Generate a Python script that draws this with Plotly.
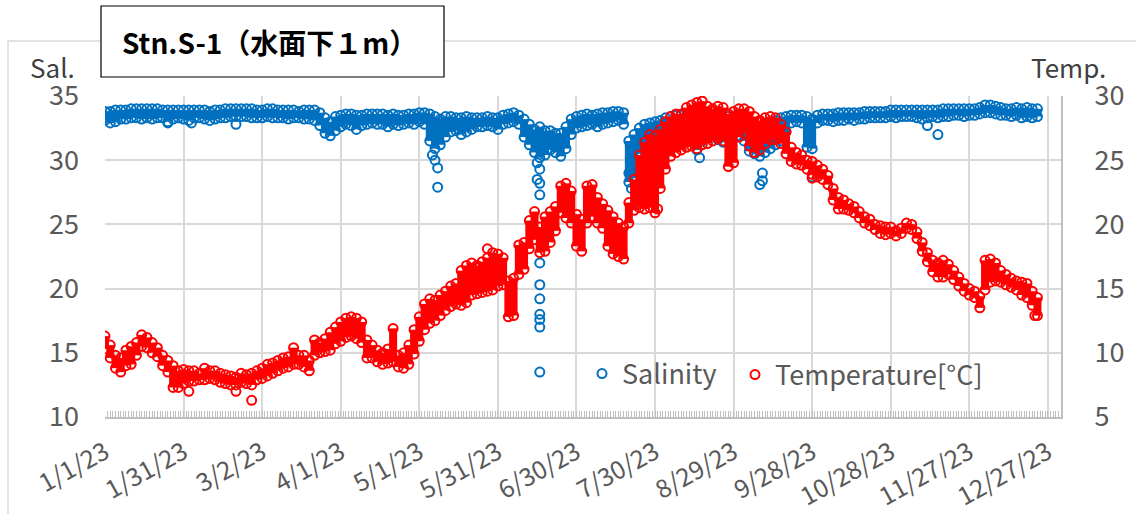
import plotly.graph_objects as go
import pandas as pd

# ---------------- data (one reading every 2 days) ----------------
start_date = "2023-01-01"

temp_lo = [10.3, 9.6, 8.8, 8.5, 9.0, 9.1, 9.8, 10.5, 10.4, 10.0, 9.7, 9.0, 8.5, 7.3, 7.3, 7.6, 7.8, 7.8, 7.9, 7.9,
           8.0, 7.9, 7.7, 7.6, 7.5, 7.5, 7.7, 7.6, 7.5, 7.9, 8.0, 8.2, 8.4, 8.6, 8.8, 8.9, 9.1, 9.1, 8.9, 8.6,
           9.8, 10.0, 10.1, 10.2, 10.7, 10.9, 11.2, 11.3, 11.1, 10.8, 9.6, 9.6, 9.3, 9.1, 9.2, 9.3, 8.9, 8.8, 9.1, 9.9,
           10.9, 11.8, 12.3, 12.5, 12.9, 13.3, 13.6, 13.8, 13.7, 13.9, 14.5, 14.6, 14.7, 14.8, 14.9, 15.2, 15.3, 12.8, 12.9, 16.1,
           16.5, 18.1, 18.8, 17.8, 17.9, 18.6, 19.5, 20.9, 20.5, 20.1, 18.3, 17.9, 20.1, 20.6, 20.1, 19.7, 18.3, 17.7, 17.5, 17.3,
           20.1, 21.1, 21.3, 21.2, 21.3, 20.9, 22.8, 24.3, 25.3, 25.6, 25.8, 26.0, 26.1, 25.9, 26.2, 26.3, 26.5, 26.7, 26.5, 24.5,
           24.8, 26.8, 27.1, 26.1, 25.6, 25.8, 26.3, 26.6, 26.6, 26.3, 25.5, 24.9, 24.7, 24.6, 24.3, 23.9, 23.7, 23.5, 23.1, 21.9,
           21.2, 21.2, 21.1, 20.9, 20.5, 20.1, 19.9, 19.6, 19.3, 19.2, 19.3, 19.1, 19.3, 19.7, 19.6, 18.9, 17.9, 17.1, 16.3, 15.9,
           15.9, 16.1, 15.7, 15.2, 14.8, 14.5, 14.3, 13.5, 14.9, 15.5, 15.6, 15.5, 15.3, 15.1, 14.9, 14.5, 14.3, 13.7, 12.9]
temp_hi = [11.3, 10.6, 9.8, 9.6, 10.2, 10.5, 10.8, 11.4, 11.2, 10.8, 10.4, 9.8, 9.4, 9.0, 8.6, 8.7, 8.6, 8.6, 8.4, 8.8,
           8.6, 8.6, 8.4, 8.3, 8.2, 8.1, 8.4, 8.3, 8.4, 8.6, 8.8, 9.1, 9.2, 9.4, 9.6, 9.7, 10.4, 9.8, 9.8, 9.4,
           11.0, 10.8, 11.1, 11.6, 12.0, 12.4, 12.7, 12.8, 12.7, 12.4, 11.0, 10.6, 10.2, 10.0, 10.3, 11.9, 9.8, 10.0, 10.6, 11.8,
           12.8, 13.8, 14.2, 14.1, 14.5, 14.8, 15.2, 15.4, 16.4, 16.8, 17.0, 16.8, 17.1, 17.4, 17.8, 17.7, 17.4, 15.6, 15.8, 18.4,
           18.6, 20.3, 21.0, 19.8, 20.6, 21.0, 21.4, 23.0, 23.2, 22.6, 20.8, 20.4, 23.0, 23.1, 22.1, 21.6, 21.1, 20.6, 20.1, 19.8,
           21.7, 23.5, 25.4, 26.4, 27.0, 26.9, 27.4, 28.0, 28.4, 28.6, 28.6, 29.1, 29.3, 29.5, 29.6, 29.2, 29.0, 29.2, 29.1, 28.6,
           28.8, 29.0, 29.0, 28.8, 28.4, 28.1, 28.3, 28.4, 28.3, 27.8, 27.2, 26.0, 25.6, 25.4, 25.0, 24.9, 24.6, 24.3, 23.8, 22.8,
           22.1, 21.9, 21.6, 21.4, 21.0, 20.6, 20.4, 20.0, 19.9, 19.8, 19.8, 19.5, 19.7, 20.1, 20.0, 19.4, 18.6, 17.8, 17.2, 17.0,
           17.2, 16.9, 16.4, 15.9, 15.4, 15.0, 14.8, 14.4, 17.2, 17.3, 17.0, 16.4, 16.1, 15.8, 15.6, 15.5, 15.4, 14.8, 14.3]

sal_lo = [33.1, 32.9, 33.0, 33.2, 33.2, 33.3, 33.3, 33.2, 33.3, 33.2, 33.3, 33.3, 33.0, 33.2, 33.3, 33.2, 33.1, 33.3, 33.3, 33.2,
          33.1, 33.2, 33.3, 33.3, 33.4, 33.4, 33.4, 33.4, 33.3, 33.3, 33.3, 33.4, 33.3, 33.3, 33.3, 33.2, 33.3, 33.3, 33.2, 33.2,
          33.1, 32.7, 32.1, 31.9, 32.3, 32.6, 32.8, 32.7, 32.4, 32.7, 32.8, 32.9, 32.8, 32.8, 32.6, 32.8, 32.7, 32.8, 32.9, 32.8,
          33.0, 32.8, 31.5, 30.9, 31.2, 31.8, 32.2, 32.3, 32.0, 32.2, 32.4, 32.6, 32.6, 32.7, 32.6, 32.4, 32.8, 32.9, 33.0, 32.8,
          31.8, 31.2, 30.6, 30.2, 30.4, 30.8, 30.6, 30.3, 30.9, 32.0, 32.5, 32.6, 32.7, 32.8, 32.6, 32.8, 32.9, 33.0, 33.1, 32.8,
          28.3, 28.6, 30.5, 30.7, 31.2, 30.8, 31.5, 32.0, 32.2, 32.2, 32.3, 32.2, 31.8, 30.8, 31.5, 32.2, 32.0, 31.6, 31.4, 31.8,
          32.0, 31.9, 31.5, 30.7, 30.5, 30.3, 30.6, 30.9, 31.2, 31.5, 32.2, 32.9, 33.0, 32.9, 31.0, 30.9, 32.9, 33.1, 33.1, 33.0,
          33.1, 33.1, 33.2, 33.1, 33.2, 33.2, 33.3, 33.3, 33.3, 33.3, 33.4, 33.3, 33.4, 33.4, 33.4, 33.3, 33.2, 33.3, 33.4, 33.3,
          33.4, 33.4, 33.5, 33.5, 33.4, 33.5, 33.5, 33.6, 33.7, 33.7, 33.6, 33.5, 33.5, 33.4, 33.5, 33.3, 33.4, 33.3, 33.4]
sal_hi = [33.8, 33.8, 33.9, 33.9, 33.9, 34.0, 34.0, 34.0, 34.0, 34.0, 34.0, 33.9, 33.9, 33.9, 33.9, 33.9, 33.9, 33.9, 33.9, 33.9,
          33.8, 33.9, 33.9, 34.0, 34.0, 34.0, 34.0, 34.0, 34.0, 33.9, 33.9, 34.0, 34.0, 33.9, 33.9, 33.9, 33.9, 33.8, 33.9, 33.9,
          33.9, 33.7, 33.3, 33.0, 33.4, 33.5, 33.6, 33.6, 33.5, 33.5, 33.6, 33.6, 33.6, 33.6, 33.5, 33.6, 33.5, 33.5, 33.6, 33.6,
          33.7, 33.7, 33.6, 33.4, 33.2, 33.4, 33.4, 33.3, 33.3, 33.4, 33.3, 33.3, 33.3, 33.4, 33.3, 33.3, 33.5, 33.6, 33.7, 33.5,
          33.2, 32.8, 32.4, 32.6, 32.3, 32.3, 32.1, 32.1, 32.6, 33.2, 33.4, 33.5, 33.6, 33.5, 33.6, 33.7, 33.7, 33.8, 33.8, 33.7,
          31.5, 32.0, 32.5, 32.8, 32.9, 33.0, 33.1, 33.3, 33.4, 33.5, 33.5, 33.5, 33.5, 33.4, 33.3, 33.5, 33.5, 33.4, 33.3, 33.4,
          33.4, 33.5, 33.4, 32.8, 32.6, 32.4, 32.6, 32.9, 33.1, 33.3, 33.4, 33.5, 33.5, 33.5, 33.4, 33.2, 33.5, 33.6, 33.6, 33.6,
          33.7, 33.7, 33.7, 33.7, 33.7, 33.8, 33.8, 33.8, 33.8, 33.8, 33.9, 33.9, 33.9, 33.9, 33.9, 33.9, 33.9, 33.9, 33.9, 33.9,
          34.0, 34.0, 34.0, 34.0, 34.0, 34.0, 34.0, 34.1, 34.3, 34.3, 34.2, 34.1, 34.0, 34.0, 34.1, 34.0, 34.1, 34.0, 34.0]

sal_out_dates = ["2023-01-25", "2023-02-03", "2023-02-20", "2023-05-06", "2023-05-07", "2023-05-08", "2023-05-08",
                 "2023-06-15", "2023-06-15", "2023-06-16", "2023-06-16", "2023-06-16", "2023-06-16", "2023-06-16",
                 "2023-06-16", "2023-06-16", "2023-06-16", "2023-06-16", "2023-06-16", "2023-07-20", "2023-07-21",
                 "2023-08-16", "2023-09-08", "2023-09-09", "2023-09-09", "2023-09-28", "2023-11-11", "2023-11-15"]
sal_out_vals = [32.9, 32.9, 32.8, 30.4, 30.0, 29.4, 27.9,
                29.8, 28.5, 29.3, 28.2, 27.3, 22.0, 20.3,
                19.2, 18.0, 17.6, 17.0, 13.5, 29.0, 27.8,
                30.2, 28.1, 29.0, 28.4, 28.7, 32.7, 32.0]

temp_out_dates = ["2023-02-02", "2023-02-20", "2023-02-26", "2023-05-27", "2023-07-31", "2023-09-28", "2023-12-22"]
temp_out_vals = [7.0, 7.0, 6.3, 18.1, 21.2, 23.6, 12.9]

tick_step_days = 30

# ---------------- styling ----------------
BLUE = "#0070C0"
RED = "#FF0000"
GRID = "#D9D9D9"
AXIS = "#BFBFBF"
TXT = "#595959"
FONT = "Noto Sans CJK JP"

W, H = 1136, 514
L, R, T, B = 105, 75, 96, 97
PW, PH = W - L - R, H - T - B


def px(x):
    return (x - L) / PW


def py(y):
    return (H - B - y) / PH


dates = pd.date_range(start_date, periods=len(temp_lo), freq="2D")

MK_SIZE = 9
MK_LW = 2


def band_traces(lo, hi, color, yaxis):
    err = [h - l for l, h in zip(lo, hi)]
    mk = dict(symbol="circle-open", size=MK_SIZE, color=color, line=dict(width=MK_LW, color=color))
    t1 = go.Scatter(x=dates, y=lo, mode="markers", marker=mk, yaxis=yaxis, showlegend=False,
                    error_y=dict(type="data", symmetric=False, array=err, arrayminus=[0] * len(err),
                                 color=color, thickness=8, width=0),
                    hoverinfo="skip")
    t2 = go.Scatter(x=dates, y=hi, mode="markers", marker=mk, yaxis=yaxis, showlegend=False,
                    hoverinfo="skip")
    return [t1, t2]


fig = go.Figure()
for t in band_traces(sal_lo, sal_hi, BLUE, "y"):
    fig.add_trace(t)
fig.add_trace(go.Scatter(x=sal_out_dates, y=sal_out_vals, mode="markers", name="Salinity", legend="legend",
                         marker=dict(symbol="circle-open", size=MK_SIZE, color=BLUE,
                                     line=dict(width=MK_LW, color=BLUE))))
for t in band_traces(temp_lo, temp_hi, RED, "y2"):
    fig.add_trace(t)
fig.add_trace(go.Scatter(x=temp_out_dates, y=temp_out_vals, mode="markers", name="Temperature[°C]", yaxis="y2",
                         legend="legend2",
                         marker=dict(symbol="circle-open", size=MK_SIZE, color=RED,
                                     line=dict(width=MK_LW, color=RED))))

legend_common = dict(orientation="h", xanchor="left", yanchor="middle", bgcolor="rgba(0,0,0,0)",
                     borderwidth=0, font=dict(size=27, color=TXT, family=FONT))

fig.update_layout(
    width=W, height=H,
    margin=dict(l=L, r=R, t=T, b=B, pad=0, autoexpand=False),
    paper_bgcolor="white", plot_bgcolor="white",
    font=dict(family=FONT, color=TXT),
    showlegend=True,
    legend=dict(x=px(582), y=py(374), **legend_common),
    legend2=dict(x=px(735), y=py(375), **legend_common),
    xaxis=dict(
        type="date", range=["2023-01-01", "2024-01-01"], automargin=False,
        tick0="2023-01-01", dtick=tick_step_days * 86400000,
        tickformat="%-m/%-d/%y", tickangle=-29,
        tickfont=dict(size=25, color=TXT, family=FONT),
        ticklabelstandoff=9,
        showgrid=True, gridcolor=GRID, gridwidth=2,
        showline=True, linecolor=AXIS, linewidth=2,
        ticks="inside", ticklen=6, tickcolor=AXIS, tickwidth=1,
        minor=dict(dtick=86400000, tick0="2023-01-01", ticks="inside", ticklen=6,
                   tickcolor=AXIS, tickwidth=1, showgrid=False),
        zeroline=False,
    ),
    yaxis=dict(
        range=[10, 35], dtick=5, tick0=10, automargin=False,
        tickfont=dict(size=27, color=TXT, family=FONT),
        showgrid=True, gridcolor=GRID, gridwidth=2,
        showline=False, ticks="", zeroline=False, ticklabelstandoff=25,
    ),
    yaxis2=dict(
        range=[5, 30], dtick=5, tick0=5, overlaying="y", side="right", automargin=False,
        tickfont=dict(size=27, color=TXT, family=FONT),
        showgrid=False, showline=True, linecolor=AXIS, linewidth=2,
        ticks="", zeroline=False, ticklabelstandoff=26,
    ),
    shapes=[
        dict(type="rect", xref="paper", yref="paper", x0=px(8), x1=px(1200), y0=py(600), y1=py(41),
             line=dict(color=GRID, width=1.5), fillcolor="rgba(0,0,0,0)", layer="below"),
        dict(type="rect", xref="paper", yref="paper", x0=px(101), x1=px(444), y0=py(77), y1=py(6),
             line=dict(color="black", width=1.2), fillcolor="white", layer="above"),
    ],
    annotations=[
        dict(text="<b>Stn.S-1（水面下１m）</b>", xref="paper", yref="paper", x=px(120), y=py(42),
             xanchor="left", yanchor="middle", showarrow=False,
             font=dict(size=28, color="black", family=FONT)),
        dict(text="Sal.", xref="paper", yref="paper", x=px(52), y=py(66), xanchor="center", yanchor="middle",
             showarrow=False, font=dict(size=26, color="#404040", family=FONT)),
        dict(text="Temp.", xref="paper", yref="paper", x=px(1068), y=py(66), xanchor="center", yanchor="middle",
             showarrow=False, font=dict(size=26, color="#404040", family=FONT)),
    ],
    hovermode=False,
)

fig.write_html("out.html")
